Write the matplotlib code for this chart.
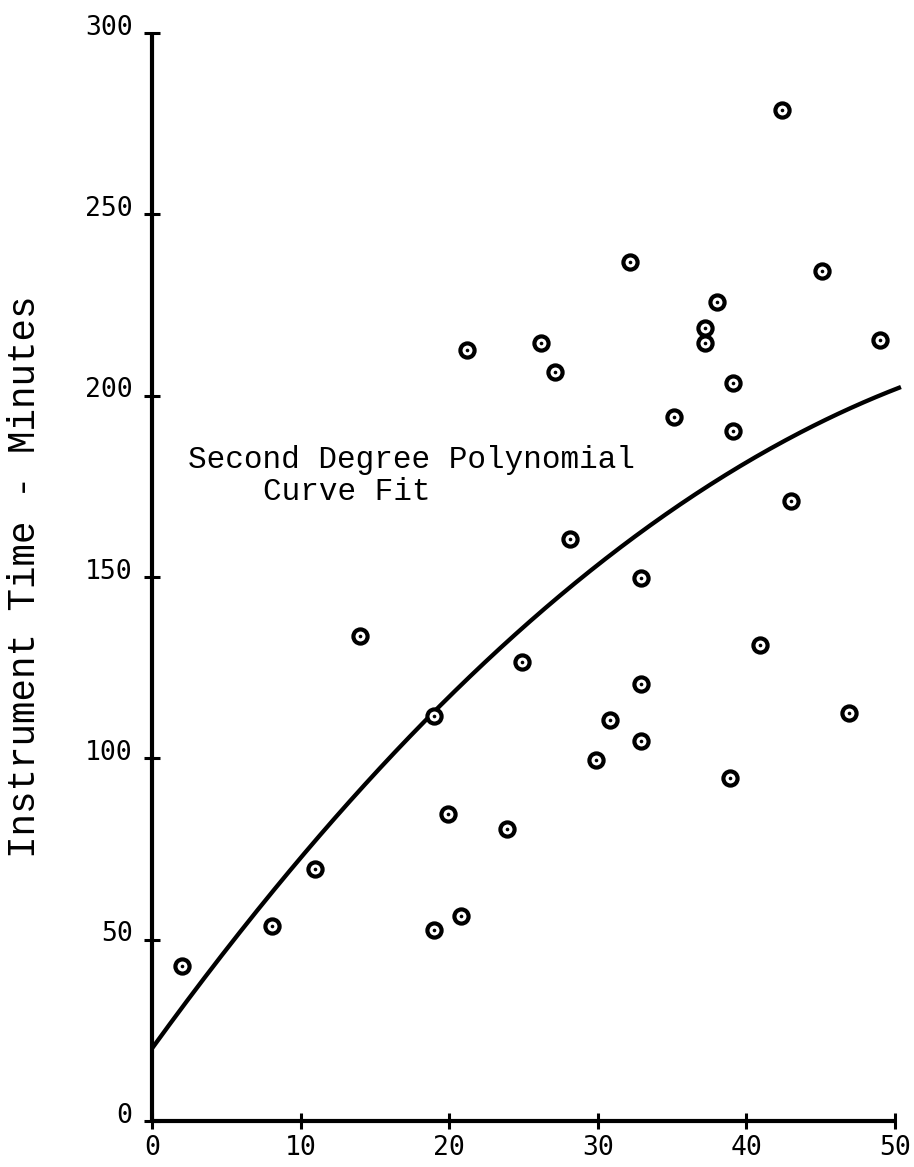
import numpy as np
import matplotlib
matplotlib.use("Agg")
import matplotlib.pyplot as plt
import matplotlib.transforms as mtransforms

# Data
x_vals = [2.0, 8.1, 11.0, 14.0, 19.0, 19.0, 19.9, 20.8, 21.2, 23.9, 24.9, 26.2,
          27.1, 28.1, 29.9, 30.8, 32.2, 32.9, 32.9, 32.9, 35.1, 37.2, 37.2, 38.0,
          38.9, 39.1, 39.1, 40.9, 42.4, 43.0, 45.1, 46.9, 49.0]
y_vals = [42.7, 53.8, 69.5, 133.7, 111.7, 52.7, 84.6, 56.5, 212.6, 80.5, 126.5, 214.4,
          206.4, 160.5, 99.5, 110.6, 236.8, 149.7, 120.5, 104.8, 194.2, 218.6, 214.6, 225.8,
          94.6, 203.4, 190.3, 131.2, 278.7, 170.9, 234.3, 112.5, 215.3]

# Second degree polynomial fit coefficients (c0, c1, c2)
fit_coeffs = [20.0, 5.66, -0.0405]

x_ticks = [0, 10, 20, 30, 40, 50]
y_ticks = [0, 50, 100, 150, 200, 250, 300]
y_label = "Instrument Time - Minutes"
note_line1 = "Second Degree Polynomial"
note_line2 = "Curve Fit"

fig = plt.figure(figsize=(9.14, 11.67), dpi=100)
ax = fig.add_axes([152/914, 46/1167, 743/914, 1088/1167])

# Fitted curve
xc = np.linspace(0, 50.4, 300)
yc = fit_coeffs[0] + fit_coeffs[1]*xc + fit_coeffs[2]*xc**2
ax.plot(xc, yc, color="black", lw=3.1, clip_on=False, zorder=3, solid_capstyle="butt")

# Data points: circle with a centre dot
ax.plot(x_vals, y_vals, linestyle="none", marker="o", markersize=10.2,
        markerfacecolor="white", markeredgecolor="black", markeredgewidth=3.0,
        clip_on=False, zorder=4)
ax.plot(x_vals, y_vals, linestyle="none", marker="o", markersize=2.6,
        markerfacecolor="black", markeredgecolor="black", markeredgewidth=0,
        clip_on=False, zorder=5)

ax.set_xlim(0, 50)
ax.set_ylim(0, 300)

for s in ["top", "right"]:
    ax.spines[s].set_visible(False)
for s in ["left", "bottom"]:
    ax.spines[s].set_linewidth(3.0)
    ax.spines[s].set_color("black")
    ax.spines[s].set_capstyle("butt")

tick_font = dict(family="DejaVu Sans Mono", size=19)
ax.set_xticks(x_ticks)
ax.set_yticks(y_ticks)
ax.set_xticklabels([str(v) for v in x_ticks], fontdict=tick_font)
ax.set_yticklabels([str(v) for v in y_ticks], fontdict=tick_font)
ax.tick_params(axis="both", direction="inout", length=12, width=2.2, color="black")
ax.tick_params(axis="x", pad=4)
ax.tick_params(axis="y", pad=8)
offset = mtransforms.ScaledTranslation(0, 6/72, fig.dpi_scale_trans)
for lbl in ax.get_yticklabels():
    lbl.set_transform(lbl.get_transform() + offset)

ax.set_ylabel(y_label, fontsize=27, family="Liberation Mono", labelpad=30)

ax.text(188, 1167-468, note_line1, transform=None, fontsize=22.3,
        family="Liberation Mono", ha="left", va="baseline")
ax.text(263, 1167-500, note_line2, transform=None, fontsize=22.3,
        family="Liberation Mono", ha="left", va="baseline")

fig.savefig("out.png", dpi=100, facecolor="white")
